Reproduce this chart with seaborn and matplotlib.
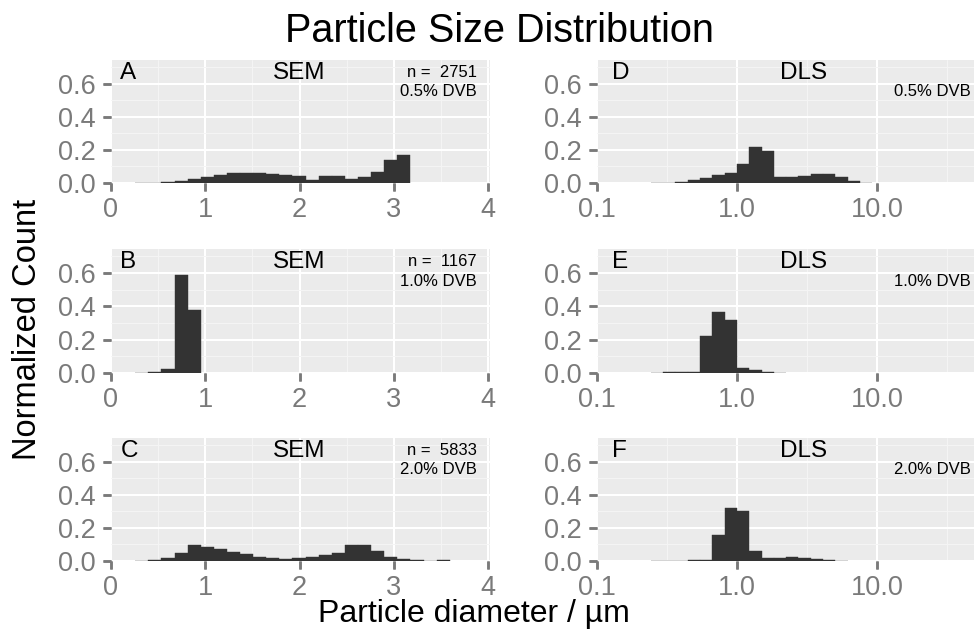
import numpy as np
import matplotlib
matplotlib.use('Agg')
import matplotlib.pyplot as plt
from matplotlib.ticker import FixedLocator
from matplotlib.markers import TICKDOWN, TICKLEFT
import seaborn as sns


# bin grids
semBinStart = 0.257     # um, first bin edge
semBinWidth = 0.139
dlsBinStart = -0.616    # log10(um), first bin edge
dlsBinWidth = 0.088

# normalized counts per bin, left to right
semA = [0.000, 0.003, 0.008, 0.014, 0.024, 0.036, 0.048, 0.058, 0.062, 0.062, 0.056,
        0.048, 0.040, 0.020, 0.040, 0.040, 0.024, 0.038, 0.066, 0.138, 0.168]
semB = [0.001, 0.004, 0.026, 0.590, 0.380]
semC = [0.000, 0.006, 0.021, 0.046, 0.098, 0.085, 0.073, 0.056, 0.040, 0.027, 0.017, 0.012,
        0.017, 0.023, 0.037, 0.046, 0.094, 0.098, 0.062, 0.027, 0.010, 0.006, 0.000, 0.004]
dlsD = [0.000, 0.002, 0.008, 0.016, 0.031, 0.047, 0.059, 0.114, 0.216, 0.192, 0.039,
        0.037, 0.043, 0.055, 0.053, 0.035, 0.012, 0.002]
dlsE = [0.002, 0.004, 0.006, 0.008, 0.223, 0.368, 0.316, 0.030, 0.020, 0.008, 0.002]
dlsF = [0.000, 0.000, 0.002, 0.004, 0.006, 0.160, 0.318, 0.304, 0.059, 0.020, 0.018,
        0.022, 0.020, 0.010, 0.004, 0.002]

panelLetters = ['A', 'B', 'C', 'D', 'E', 'F']
sampleSizes  = ['2751', '1167', '5833']
dvbLabels    = ['0.5% DVB', '1.0% DVB', '2.0% DVB']

semTicks      = [0, 1, 2, 3, 4]
dlsTicks      = [0.1, 1.0, 10.0]
dlsTickLabels = ['0.1', '1.0', '10.0']
yTicks        = [0.0, 0.2, 0.4, 0.6]

barColor  = '#333333'
tickColor = '#7A7A7A'
panelBg   = '#EBEBEB'
tickLen   = 5.5
tickWidth = 1.8

sns.set_style('darkgrid', {'axes.facecolor': panelBg, 'grid.color': 'white',
                           'xtick.bottom': True, 'ytick.left': True})
plt.rcParams['font.family'] = ['Liberation Sans', 'DejaVu Sans']
plt.rcParams['text.color'] = 'black'

W, H = 974, 629
fig = plt.figure(figsize=(W / 100, H / 100), dpi=100)

colX = [(111, 490), (597, 974)]
rowY = [(60, 183), (249, 373), (438, 561)]


def pixAxes(x0, y0, x1, y1):
    return fig.add_axes([x0 / W, 1 - y1 / H, (x1 - x0) / W, (y1 - y0) / H])


def styleAxes(ax, xTicks):
    for s in ax.spines.values():
        s.set_visible(False)
    ax.set_ylim(0, 0.745)
    ax.yaxis.set_major_locator(FixedLocator(yTicks))
    ax.set_yticklabels(['%.1f' % v for v in yTicks])
    ax.yaxis.set_minor_locator(FixedLocator([0.1, 0.3, 0.5, 0.7]))
    ax.grid(True, which='major', color='white', linewidth=1.5)
    ax.grid(True, which='minor', color='#F5F5F5', linewidth=0.7)
    ax.set_axisbelow(True)
    ax.tick_params(which='major', bottom=True, left=True, direction='out', length=tickLen,
                   width=tickWidth, color=tickColor, labelcolor=tickColor, labelsize=19.5)
    ax.tick_params(axis='y', which='major', pad=5.5)
    ax.tick_params(axis='x', which='major', pad=4.5)
    ax.tick_params(which='minor', bottom=False, left=False, length=0)
    ax.set_xlabel('')
    ax.set_ylabel('')
    # outward tick marks as markers on the axis edges, kept on top and unclipped
    ax.plot(xTicks, [0] * len(xTicks), transform=ax.get_xaxis_transform(),
            linestyle='none', marker=TICKDOWN, markersize=tickLen, markeredgewidth=tickWidth,
            color=tickColor, clip_on=False, zorder=6)
    ax.plot([0] * len(yTicks), yTicks, transform=ax.get_yaxis_transform(),
            linestyle='none', marker=TICKLEFT, markersize=tickLen, markeredgewidth=tickWidth,
            color=tickColor, clip_on=False, zorder=6)


semSeries = [semA, semB, semC]
dlsSeries = [dlsD, dlsE, dlsF]

for i in range(3):
    # SEM, linear diameter
    ax = pixAxes(colX[0][0], rowY[i][0], colX[0][1], rowY[i][1])
    h = semSeries[i]
    edges = semBinStart + semBinWidth * np.arange(len(h) + 1)
    centers = edges[:-1] + semBinWidth / 2
    sns.histplot(x=centers, weights=h, bins=edges.tolist(), ax=ax, color=barColor,
                 alpha=1, edgecolor=barColor, linewidth=0.3)
    ax.set_xlim(0, 4.02)
    ax.xaxis.set_major_locator(FixedLocator(semTicks))
    ax.set_xticklabels([str(t) for t in semTicks])
    ax.xaxis.set_minor_locator(FixedLocator([0.5, 1.5, 2.5, 3.5]))
    styleAxes(ax, semTicks)
    ax.set_xlim(0, 4.02)
    yTop = 0.667
    ax.text(0.10, yTop, panelLetters[i], ha='left', va='center', fontsize=17.5)
    ax.text(2.0, yTop, 'SEM', ha='center', va='center', fontsize=17.5)
    ax.text(3.88, yTop, 'n =  ' + sampleSizes[i], ha='right', va='center', fontsize=12)
    ax.text(3.88, 0.552, dvbLabels[i], ha='right', va='center', fontsize=12)

    # DLS, log diameter
    ax = pixAxes(colX[1][0], rowY[i][0], colX[1][1], rowY[i][1])
    h = dlsSeries[i]
    edgesLog = dlsBinStart + dlsBinWidth * np.arange(len(h) + 1)
    centersLog = edgesLog[:-1] + dlsBinWidth / 2
    sns.histplot(x=10 ** centersLog, weights=h, bins=edgesLog.tolist(), log_scale=True,
                 ax=ax, color=barColor, alpha=1, edgecolor=barColor, linewidth=0.3)
    ax.set_xlim(0.1, 49.5)
    ax.xaxis.set_major_locator(FixedLocator(dlsTicks))
    ax.set_xticklabels(dlsTickLabels)
    ax.xaxis.set_minor_locator(FixedLocator([10 ** -0.5, 10 ** 0.5, 10 ** 1.5]))
    styleAxes(ax, dlsTicks)
    ax.set_xlim(0.1, 49.5)
    ax.text(0.128, yTop, panelLetters[i + 3], ha='left', va='center', fontsize=17.5)
    ax.text(3.0, yTop, 'DLS', ha='center', va='center', fontsize=17.5)
    ax.text(47, 0.552, dvbLabels[i], ha='right', va='center', fontsize=12)

fig.text(500 / W, 1 - 42 / H, 'Particle Size Distribution', ha='center', va='baseline',
         fontsize=28.5)
fig.text(474 / W, 1 - 622 / H, 'Particle diameter / µm', ha='center', va='baseline',
         fontsize=23)
fig.text(28 / W, 1 - 329 / H, 'Normalized Count', ha='center', va='center',
         rotation=90, fontsize=23.5)

fig.savefig('out.png', dpi=100)
